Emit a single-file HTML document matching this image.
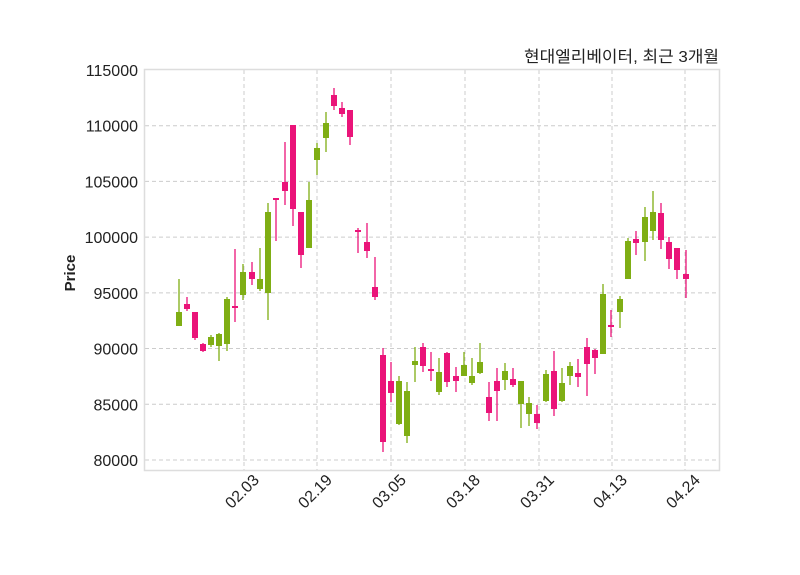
<!DOCTYPE html>
<html><head><meta charset="utf-8"><style>
body{margin:0;background:#fff}
svg{display:block}
text{font-family:"Liberation Sans","Noto Sans CJK KR",sans-serif;fill:#222}
</style></head><body>
<svg id="s" width="800" height="575" xmlns="http://www.w3.org/2000/svg">
<rect width="800" height="575" fill="#fff"/>
<g id="grid" stroke="#cccccc" stroke-width="1" stroke-dasharray="4,3"></g>
<rect x="144.5" y="69.5" width="575" height="401" fill="none" stroke="#dddddd" stroke-width="1.5"/>
<g id="c"></g>
<g id="lab" font-size="16"></g>
<text x="719" y="62" text-anchor="end" font-size="16" textLength="195" lengthAdjust="spacingAndGlyphs">현대엘리베이터, 최근 3개월</text>
<text transform="translate(75,273) rotate(-90)" text-anchor="middle" font-size="15" font-weight="bold">Price</text>
</svg>
<script>
var ns="http://www.w3.org/2000/svg";
function el(p,t,a,tx){var e=document.createElementNS(ns,t);for(var k in a)e.setAttribute(k,a[k]);if(tx)e.textContent=tx;p.appendChild(e);return e;}
var g=document.getElementById('grid'),lab=document.getElementById('lab'),c=document.getElementById('c');
for(var i=0;i<8;i++){var v=115000-i*5000,y=70+i*55.71;
 if(i>0)el(g,'line',{x1:145,x2:719,y1:y,y2:y});
 el(lab,'text',{x:138,y:y+6,'text-anchor':'end'},String(v));}
var xt=[[244,'02.03'],[317,'02.19'],[391,'03.05'],[465,'03.18'],[539,'03.31'],[612,'04.13'],[685,'04.24']];
xt.forEach(function(t){el(g,'line',{x1:t[0],x2:t[0],y1:70,y2:470});
 var ax=t[0]+16,ay=481;
 el(lab,'text',{x:ax,y:ay,'text-anchor':'end',transform:'rotate(-45 '+ax+' '+ay+')'},t[1]);});
var d=[[179,'g',279,326,312,326],[187,'p',297,311,304,309],[195,'p',312,340,312,338],[203,'p',343,352,344,351],[211,'g',335,347,337,345],[219,'g',333,361,334,346],[227,'g',297,351,299,344],[235,'p',249,322,306,308],[243,'g',264,300,272,295],[252,'p',262,285,272,279],[260,'g',248,291,279,289],[268,'g',203,320,212,293],[276,'p',199,241,198,200],[285,'p',142,205,182,191],[293,'p',125,226,125,209],[301,'p',212,268,212,255],[309,'g',182,248,200,248],[317,'g',143,175,148,160],[326,'g',112,152,123,138],[334,'p',88,110,95,106],[342,'p',102,117,108,114],[350,'p',110,145,110,137],[358,'p',228,253,230,232],[367,'p',223,258,242,251],[375,'p',257,300,287,297],[383,'p',348,452,355,442],[391,'p',362,402,381,393],[399,'g',376,425,381,424],[407,'g',382,443,391,436],[415,'g',347,382,361,365],[423,'p',343,372,347,366],[431,'p',352,381,369,371],[439,'g',358,395,372,392],[447,'p',352,387,353,382],[456,'p',367,392,376,381],[464,'g',352,376,365,376],[472,'g',358,385,376,383],[480,'g',343,374,362,373],[489,'p',382,421,397,413],[497,'p',368,421,381,391],[505,'g',363,390,371,380],[513,'p',368,387,379,385],[521,'g',381,428,381,404],[529,'g',397,426,403,414],[537,'p',405,429,414,423],[546,'g',370,402,374,401],[554,'p',351,416,371,409],[562,'g',368,402,383,401],[570,'g',362,385,366,376],[578,'p',359,387,373,377],[587,'p',338,396,347,364],[595,'p',349,374,350,358],[603,'g',284,354,294,354],[611,'p',310,337,325,327],[620,'g',296,328,299,312],[628,'g',238,279,241,279],[636,'p',231,255,239,243],[645,'g',207,261,217,242],[653,'g',191,240,212,231],[661,'p',203,249,213,240],[669,'p',237,269,242,259],[677,'p',248,279,248,270],[686,'p',250,298,274,279]];
d.forEach(function(k){var col=k[1]=='g'?'#7fae14':'#ea1479';
 el(c,'line',{x1:k[0],x2:k[0],y1:k[2],y2:k[3],stroke:col,'stroke-width':1.3});
 el(c,'rect',{x:k[0]-3,y:k[4],width:6,height:Math.max(2,k[5]-k[4]),fill:col});});
</script>
</body></html>
